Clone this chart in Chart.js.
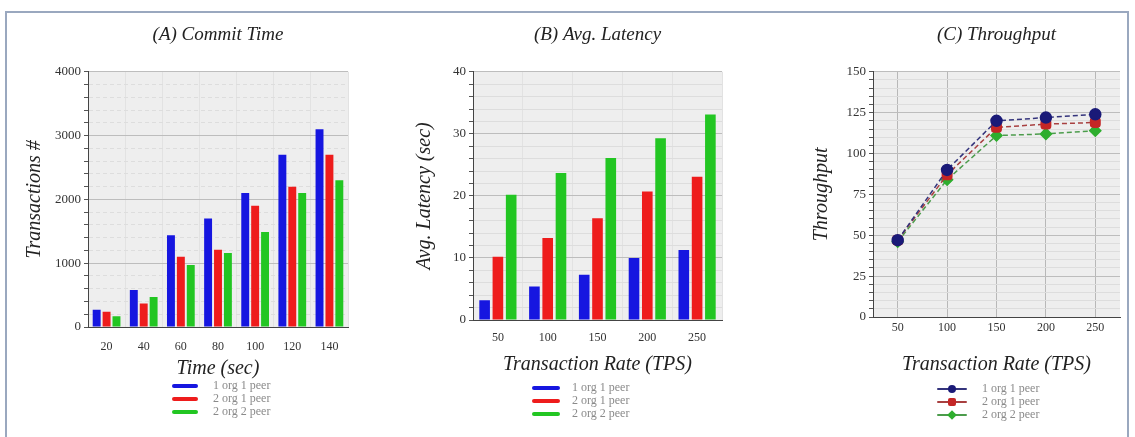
<!DOCTYPE html>
<html>
<head>
<meta charset="utf-8">
<script src="https://cdn.jsdelivr.net/npm/chart.js@4.4.1/dist/chart.umd.min.js"></script>
<style>
  body { margin: 0; background: #fff; width: 1135px; height: 437px; overflow: hidden; position: relative; }
  #frame { position: absolute; left: 5px; top: 11px; width: 1124px; height: 440px; border: 2px solid #9aa8bf; box-sizing: border-box; }
  canvas { position: absolute; top: 14px; }
  .legend { position: absolute; font: 12px "Liberation Serif", serif; color: #8a8a8a; }
  .legend div { height: 13px; display: flex; align-items: center; white-space: nowrap; }
  .sw { position: relative; display: inline-block; height: 4px; border-radius: 2px; }
  .sw i { position: absolute; left: 50%; top: 50%; width: 8px; height: 8px; margin: -4px 0 0 -4px; }
</style>
</head>
<body>
<div id="frame"></div>
<canvas id="commit" width="369" height="368" style="left:6px"></canvas>
<canvas id="latency" width="377" height="368" style="left:375px"></canvas>
<canvas id="throughput" width="378" height="368" style="left:752px"></canvas>
<div class="legend" id="legA" style="left:172px; top:379px"></div>
<div class="legend" id="legB" style="left:532px; top:381px"></div>
<div class="legend" id="legC" style="left:937px; top:382px"></div>
<script>
// series names shared by all three panels
const seriesNames = ['1 org 1 peer', '2 org 1 peer', '2 org 2 peer'];

// (A) commit time
const commitTimes = ['20', '40', '60', '80', '100', '120', '140'];
const commit1org1peer = [270, 580, 1440, 1700, 2100, 2700, 3100];
const commit2org1peer = [240, 370, 1100, 1210, 1900, 2200, 2700];
const commit2org2peer = [170, 470, 970, 1160, 1490, 2100, 2300];

// (B) average latency, seconds
const rates = ['50', '100', '150', '200', '250'];
const latency1org1peer = [3.2, 5.4, 7.3, 10, 11.3];
const latency2org1peer = [10.2, 13.2, 16.4, 20.7, 23.1];
const latency2org2peer = [20.2, 23.7, 26.1, 29.3, 33.1];

// (C) throughput
const tput1org1peer = [47, 90, 120, 122, 124];
const tput2org1peer = [47, 87, 116, 118, 119];
const tput2org2peer = [46, 84, 111, 112, 114];

const barColors = ['#1616e0', '#ee1c1c', '#22c622'];
const lineColors = ['#34347c', '#a84040', '#4c9c4c'];
const pointColors = ['#1a1a78', '#c42626', '#2eae2e'];
const pointStyles = ['circle', 'rectRounded', 'rectRot'];

const serif = 'Liberation Serif';

//grey plot area behind the bars
const plotBackground = {
    id: 'plotBackground',
    beforeDraw(chart) {
        const {ctx, chartArea: a} = chart;
        ctx.save();
        ctx.fillStyle = '#eeeeee';
        ctx.fillRect(a.left, a.top, a.right - a.left, a.bottom - a.top);
        ctx.restore();
    }
};

function makeChart(id, type, labels, datasets, o) {
    return new Chart(document.getElementById(id), {
        type: type,
        data: { labels: labels, datasets: datasets },
        plugins: [plotBackground],
        options: {
            responsive: false,
            animation: false,
            layout: { padding: { left: 0, right: o.padRight, top: 0, bottom: 0 } },
            plugins: {
                legend: { display: false },
                tooltip: { enabled: false },
                title: {
                    display: true,
                    fullSize: false, // centre over the plot, not the canvas
                    text: o.title,
                    color: '#222',
                    font: { family: serif, size: 19, style: 'italic', weight: 'normal' },
                    padding: { top: 10, bottom: 25 }
                }
            },
            scales: {
                x: {
                    offset: true,
                    grid: { color: o.xGrid, drawTicks: false },
                    border: { color: '#444' },
                    ticks: { padding: o.xPad, color: '#333', font: { family: serif, size: 12 } },
                    title: {
                        display: true,
                        text: o.xTitle,
                        color: '#222',
                        font: { family: serif, size: 20, style: 'italic' },
                        padding: { top: 0, bottom: o.xTitlePad }
                    },
                    afterFit: s => { s.height = o.xHeight; }
                },
                y: {
                    min: 0,
                    max: o.yMax,
                    grid: {
                        color: c => (c.tick && c.tick.value % o.major === 0) ? '#bdbdbd' : '#dddddd',
                        tickLength: 4,
                        tickColor: '#555'
                    },
                    border: { color: '#444', dash: c => (o.dashMinor && c.tick && c.tick.value % o.major !== 0) ? [4, 3] : [] },
                    ticks: {
                        stepSize: o.minor,
                        autoSkip: false,
                        padding: 3,
                        color: '#333',
                        font: { family: serif, size: 13 },
                        callback: v => v % o.major === 0 ? v : ''
                    },
                    title: {
                        display: true,
                        text: o.yTitle,
                        color: '#222',
                        font: { family: serif, size: 20, style: 'italic' },
                        padding: { top: o.yTitlePad, bottom: 0 }
                    },
                    afterFit: s => { s.width = o.yWidth; }
                }
            }
        }
    });
}

function bars(values) {
    return values.map((v, i) => ({
        label: seriesNames[i],
        data: v,
        backgroundColor: barColors[i],
        borderWidth: 0,
        categoryPercentage: 0.8,
        barPercentage: 0.8
    }));
}

makeChart('commit', 'bar', commitTimes,
    bars([commit1org1peer, commit2org1peer, commit2org2peer]), {
        title: '(A) Commit Time', xTitle: 'Time (sec)', yTitle: 'Transactions #',
        yMax: 4000, minor: 200, major: 1000, dashMinor: true,
        padRight: 27, yWidth: 82, yTitlePad: 17, xHeight: 55, xPad: 13, xTitlePad: 1,
        xGrid: '#e2e2e2'
    });

makeChart('latency', 'bar', rates,
    bars([latency1org1peer, latency2org1peer, latency2org2peer]), {
        title: '(B) Avg. Latency', xTitle: 'Transaction Rate (TPS)', yTitle: 'Avg. Latency (sec)',
        yMax: 40, minor: 2, major: 10, dashMinor: false,
        padRight: 30, yWidth: 98, yTitlePad: 38, xHeight: 62, xPad: 11, xTitlePad: 5,
        xGrid: '#e2e2e2'
    });

makeChart('throughput', 'line', rates,
    [tput1org1peer, tput2org1peer, tput2org2peer].map((v, i) => ({
        label: seriesNames[i],
        data: v,
        borderColor: lineColors[i],
        borderWidth: 1.5,
        borderDash: [5, 3],
        pointStyle: pointStyles[i],
        pointRadius: 5.5,
        pointBackgroundColor: pointColors[i],
        pointBorderColor: pointColors[i],
        tension: 0
    })), {
        title: '(C) Throughput', xTitle: 'Transaction Rate (TPS)', yTitle: 'Throughput',
        yMax: 150, minor: 5, major: 25, dashMinor: false,
        padRight: 10, yWidth: 121, yTitlePad: 58, xHeight: 65, xPad: 4, xTitlePad: 5,
        xGrid: '#b8b8b8'
    });

//legends listed vertically below each panel
function drawLegend(id, colors, swWidth, gap, markers) {
    const box = document.getElementById(id);
    seriesNames.forEach((name, i) => {
        const row = document.createElement('div');
        const sw = document.createElement('span');
        sw.className = 'sw';
        sw.style.width = swWidth + 'px';
        sw.style.marginRight = gap + 'px';
        sw.style.background = colors[i];
        if (markers) {
            sw.style.height = '2px';
            const m = document.createElement('i');
            m.style.background = pointColors[i];
            if (pointStyles[i] === 'circle') m.style.borderRadius = '50%';
            if (pointStyles[i] === 'rectRounded') m.style.borderRadius = '2px';
            if (pointStyles[i] === 'rectRot') m.style.transform = 'rotate(45deg) scale(0.85)';
            sw.appendChild(m);
        }
        row.appendChild(sw);
        row.appendChild(document.createTextNode(name));
        box.appendChild(row);
    });
}

drawLegend('legA', barColors, 26, 15, false);
drawLegend('legB', barColors, 28, 12, false);
drawLegend('legC', lineColors, 30, 15, true);
</script>
</body>
</html>
